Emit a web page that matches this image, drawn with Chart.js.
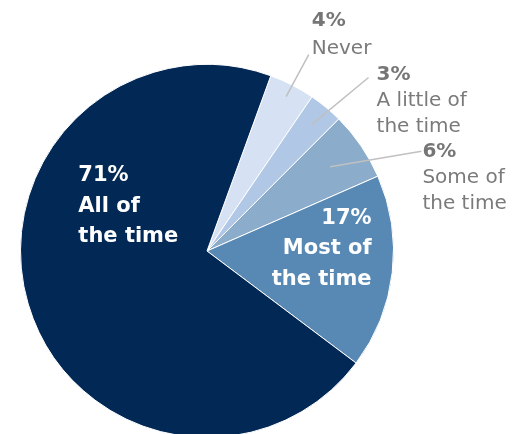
<!DOCTYPE html>
<html>
<head>
<meta charset="utf-8">
<script src="https://cdn.jsdelivr.net/npm/chart.js@4/dist/chart.umd.min.js"></script>
<style>
  html, body { margin: 0; padding: 0; background: #fff; overflow: hidden; }
  #wrap { width: 526px; height: 460px; position: relative; }
</style>
</head>
<body>
<div id="wrap"><canvas id="chartPie"></canvas></div>
<script>
const categories = ['Never', 'A little of the time', 'Some of the time', 'Most of the time', 'All of the time'];
const values = [4, 3, 6, 17, 71];
const sliceColors = ['#d6e2f3', '#b1c7e6', '#8badcb', '#5889b5', '#022856'];

// text lines per slice (percent label first), plus where to put them, relative to pie centre (units of a 187px radius)
const labelLines = [
  ['Never'],
  ['A little of', 'the time'],
  ['Some of', 'the time'],
  ['Most of', 'the time'],
  ['All of', 'the time']
];
const labelLayout = [
  { dx: 105, dy: -231, gap: 28, align: 'left', inside: false, lead: [102, -197], r: 0.93 },
  { dx: 170, dy: -177, gap: 26, align: 'left', inside: false, lead: [162, -174], r: 0.88 },
  { dx: 216, dy: -99, gap: 26, align: 'left', inside: false, lead: [215, -100], r: 0.80 },
  { dx: 165, dy: -33, gap: 31, align: 'right', inside: true },
  { dx: -129, dy: -76, gap: 31, align: 'left', inside: true }
];

const sliceLabels = {
  id: 'sliceLabels',
  afterDatasetsDraw(chart) {
    const ctx = chart.ctx;
    const arcs = chart.getDatasetMeta(0).data;
    arcs.forEach((arc, i) => {
      const p = arc.getProps(['x', 'y', 'startAngle', 'endAngle', 'outerRadius'], true);
      const k = p.outerRadius / 187;
      const L = labelLayout[i];
      ctx.save();
      if (!L.inside) {
        const mid = (p.startAngle + p.endAngle) / 2;
        ctx.strokeStyle = '#c0c0c0';
        ctx.lineWidth = 1.5;
        ctx.beginPath();
        ctx.moveTo(p.x + Math.cos(mid) * p.outerRadius * L.r, p.y + Math.sin(mid) * p.outerRadius * L.r);
        ctx.lineTo(p.x + L.lead[0] * k, p.y + L.lead[1] * k);
        ctx.stroke();
      }
      const tx = p.x + L.dx * k;
      let ty = p.y + L.dy * k;
      ctx.textAlign = L.align;
      ctx.textBaseline = 'middle';
      if (L.inside) {
        ctx.fillStyle = '#ffffff';
        ctx.font = 'bold 21px "DejaVu Sans"';
        ctx.fillText(values[i] + '%', tx, ty);
        labelLines[i].forEach(line => {
          ty += L.gap * k;
          ctx.fillText(line, tx, ty);
        });
      } else {
        ctx.fillStyle = '#767676';
        ctx.font = 'bold 20px "DejaVu Sans"';
        ctx.fillText(values[i] + '%', tx, ty);
        ctx.fillStyle = '#7a7a7a';
        ctx.font = '20px "DejaVu Sans"';
        labelLines[i].forEach(line => {
          ty += L.gap * k;
          ctx.fillText(line, tx, ty);
        });
      }
      ctx.restore();
    });
  }
};

const ctxPie = document.getElementById('chartPie').getContext('2d');
new Chart(ctxPie, {
  type: 'pie',
  data: {
    labels: categories,
    datasets: [{
      data: values,
      backgroundColor: sliceColors,
      borderColor: '#ffffff',
      borderWidth: 1
    }]
  },
  options: {
    responsive: true,
    maintainAspectRatio: false,
    animation: false,
    rotation: 20,
    layout: { padding: { left: 20, right: 132, top: 64, bottom: 22 } },
    plugins: {
      legend: { display: false },
      tooltip: { enabled: false }
    }
  },
  plugins: [sliceLabels]
});
</script>
</body>
</html>
